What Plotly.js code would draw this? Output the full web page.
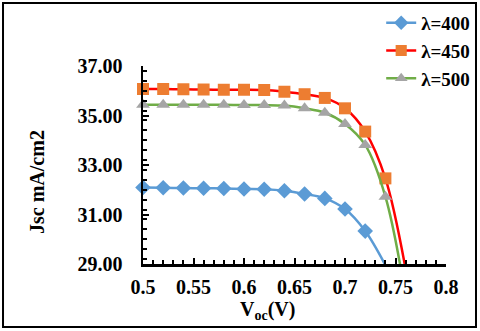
<!DOCTYPE html>
<html>
<head>
<meta charset="utf-8">
<script src="https://cdn.plot.ly/plotly-3.0.1.min.js"></script>
<style>
  html, body { margin: 0; padding: 0; background: #fff; }
  #plot { width: 480px; height: 331px; }
</style>
</head>
<body>
<div id="plot"></div>
<script>
// Voc values (V); last point runs below the 29 floor so the curve drops off the axis
var voc = [0.50, 0.52, 0.54, 0.56, 0.58, 0.60, 0.62, 0.64, 0.66, 0.68, 0.70, 0.72, 0.74, 0.76];

var jsc400 = [32.09, 32.08, 32.07, 32.06, 32.05, 32.03, 32.02, 31.96, 31.83, 31.65, 31.22, 30.33, 28.95];
var jsc450 = [36.07, 36.07, 36.06, 36.05, 36.04, 36.04, 36.03, 35.96, 35.86, 35.71, 35.29, 34.35, 32.46, 28.8];
var jsc500 = [35.43, 35.43, 35.43, 35.43, 35.43, 35.42, 35.42, 35.40, 35.29, 35.11, 34.66, 33.81, 31.72, 27.7];

var names = ['λ=400', 'λ=450', 'λ=500'];

var serif = '"Times New Roman", "Liberation Serif", Times, serif';

// hide the marker on the point that only carries the line below the axis
function sizes(n, s) {
    var out = [];
    for (var i = 0; i < n; i++) out.push(i === n - 1 ? 0 : s);
    return out;
}

var trace1 = {
    x: voc.slice(0, jsc400.length),
    y: jsc400,
    type: 'scatter',
    mode: 'lines+markers',
    name: names[0],
    cliponaxis: false,
    line: { color: '#5B9BD5', width: 2.5, shape: 'spline', smoothing: 1 },
    marker: { color: '#5B9BD5', symbol: 'diamond', size: sizes(jsc400.length, 12), opacity: 1, line: { width: 0 } }
};

var trace2 = {
    x: voc,
    y: jsc450,
    type: 'scatter',
    mode: 'lines+markers',
    name: names[1],
    cliponaxis: false,
    line: { color: '#FF0000', width: 2.5, shape: 'spline', smoothing: 1 },
    marker: { color: '#ED7D31', symbol: 'square', size: sizes(jsc450.length, 12), opacity: 1, line: { width: 0 } }
};

var trace3 = {
    x: voc,
    y: jsc500,
    type: 'scatter',
    mode: 'lines+markers',
    name: names[2],
    cliponaxis: false,
    line: { color: '#70AD47', width: 2.5, shape: 'spline', smoothing: 1 },
    marker: { color: '#A5A5A5', symbol: 'triangle-up', size: sizes(jsc500.length, 12), opacity: 1, line: { width: 0 } }
};

var data = [trace1, trace2, trace3];

var layout = {
    width: 480,
    height: 331,
    margin: { l: 143, r: 34, t: 66, b: 67, autoexpand: false },
    paper_bgcolor: '#fff',
    plot_bgcolor: '#fff',
    font: { family: serif, size: 20, color: '#000', weight: 'bold' },
    showlegend: true,
    legend: {
        xref: 'container', yref: 'container',
        x: 0.99, xanchor: 'right',
        y: 0.988, yanchor: 'top',
        bgcolor: 'rgba(0,0,0,0)',
        font: { family: serif, size: 19, color: '#000', weight: 'bold' },
        tracegroupgap: 0
    },
    xaxis: {
        range: [0.5, 0.8],
        dtick: 0.05,
        tick0: 0.5,
        showgrid: false,
        zeroline: false,
        showline: true,
        linecolor: '#000',
        linewidth: 2.5,
        ticks: 'inside',
        ticklen: 6,
        tickwidth: 2,
        tickcolor: '#000',
        ticklabelstandoff: 3,
        tickfont: { family: serif, size: 20, color: '#000', weight: 'bold' },
        minor: { dtick: 0.01, ticks: 'inside', ticklen: 4, tickwidth: 2, tickcolor: '#000' }
    },
    yaxis: {
        range: [29, 37],
        dtick: 2,
        tick0: 29,
        tickformat: '.2f',
        showgrid: false,
        zeroline: false,
        showline: true,
        linecolor: '#000',
        linewidth: 2.5,
        ticks: 'inside',
        ticklen: 6,
        tickwidth: 2,
        tickcolor: '#000',
        ticklabelstandoff: 14,
        tickfont: { family: serif, size: 20, color: '#000', weight: 'bold' },
        minor: { dtick: 0.4, ticks: 'inside', ticklen: 4, tickwidth: 2, tickcolor: '#000' }
    },
    annotations: [
        {
            text: 'V<sub>oc</sub>(V)',
            xref: 'paper', yref: 'paper',
            x: 0.4125, y: -0.237,
            xanchor: 'center', yanchor: 'middle',
            showarrow: false,
            font: { family: serif, size: 20, color: '#000', weight: 'bold' }
        },
        {
            text: 'Jsc mA/cm2',
            xref: 'paper', yref: 'paper',
            x: -0.35, y: 0.414,
            xanchor: 'center', yanchor: 'middle',
            textangle: -90,
            showarrow: false,
            font: { family: serif, size: 20, color: '#000', weight: 'bold' }
        }
    ],
    shapes: [
        {
            type: 'rect', xref: 'paper', yref: 'paper',
            x0: -0.462, x1: 1.099, y0: -0.318, y1: 1.318,
            line: { color: '#000', width: 2 },
            fillcolor: 'rgba(0,0,0,0)'
        }
    ]
};

Plotly.newPlot('plot', data, layout, { displayModeBar: false, staticPlot: true });
</script>
</body>
</html>
